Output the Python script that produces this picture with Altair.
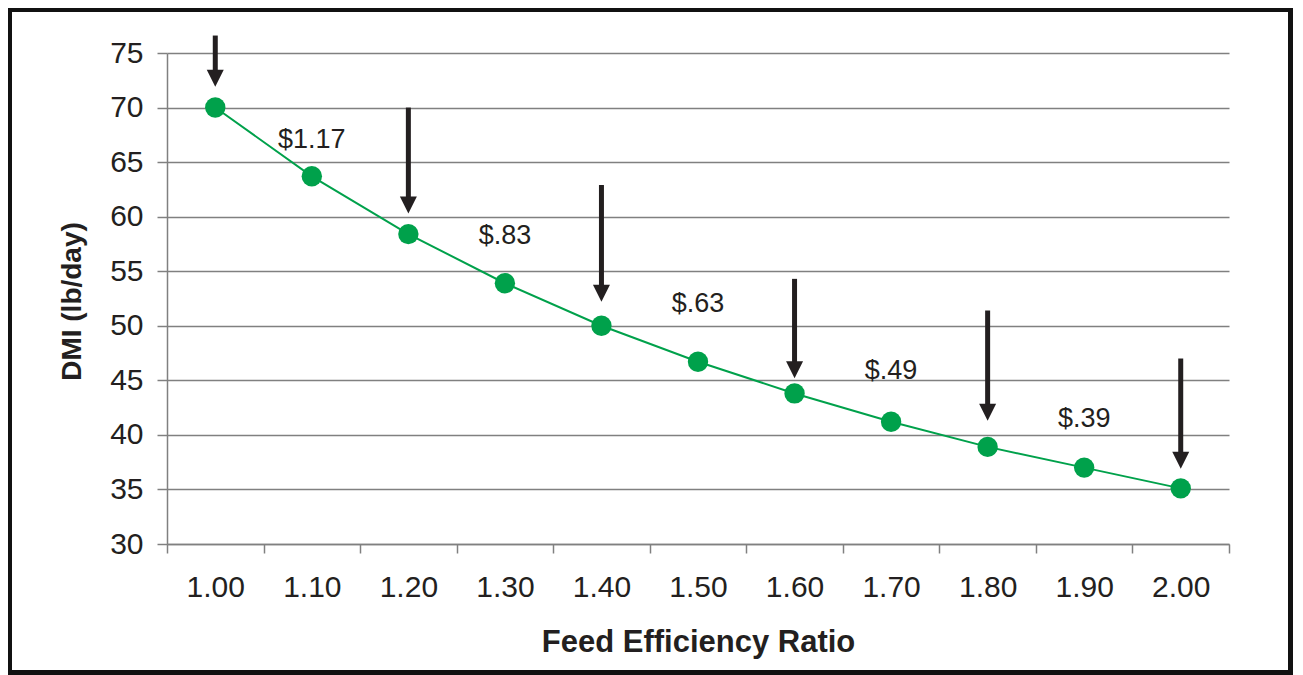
import altair as alt
import pandas as pd

# ---- data ----
ratios = ["1.00", "1.10", "1.20", "1.30", "1.40", "1.50", "1.60", "1.70", "1.80", "1.90", "2.00"]
dmi = [70.0, 63.7, 58.4, 53.9, 50.0, 46.7, 43.8, 41.2, 38.9, 37.0, 35.1]

arrow_at = ["1.00", "1.20", "1.40", "1.60", "1.80", "2.00"]
arrow_tail = [76.6, 70.0, 62.9, 54.3, 51.4, 47.0]
arrow_tip = [71.9, 60.3, 52.2, 45.2, 41.3, 36.9]

label_at = ["1.10", "1.30", "1.50", "1.70", "1.90"]
label_y = [67.0, 58.2, 52.0, 45.9, 41.5]
label_text = ["$1.17", "$.83", "$.63", "$.49", "$.39"]

y_ticks = [30, 35, 40, 45, 50, 55, 60, 65, 70, 75]

df = pd.DataFrame({"ratio": ratios, "dmi": dmi})
arrows = pd.DataFrame({"ratio": arrow_at, "tail": arrow_tail, "tip": arrow_tip})
labels = pd.DataFrame({"ratio": label_at, "y": label_y, "text": label_text})

FONT = "Liberation Sans"
GREEN = "#00A14B"
DARK = "#231F20"
GRID = "#808080"

W, H = 1062, 491
PAD_L, PAD_T, PAD_R, PAD_B = 159, 45, 64, 131

xscale = alt.Scale(type="band", paddingInner=0, paddingOuter=0, domain=ratios)
yscale = alt.Scale(domain=[30, 75], nice=False, zero=False)

x_axis = alt.Axis(
    title="Feed Efficiency Ratio",
    tickBand="extent",
    labelAngle=0,
    labelFontSize=30,
    labelFont=FONT,
    labelColor=DARK,
    labelPadding=19,
    tickSize=9,
    tickColor=GRID,
    tickWidth=1.5,
    domainColor=GRID,
    domainWidth=1.5,
    grid=False,
    titleFont=FONT,
    titleFontSize=31,
    titleFontWeight="bold",
    titleColor=DARK,
    titleBaseline="alphabetic",
    titleY=107,
    titleX=W / 2,
    titleAlign="center",
)

y_axis = alt.Axis(
    title="DMI (lb/day)",
    values=y_ticks,
    labelFontSize=30,
    labelFont=FONT,
    labelColor=DARK,
    labelPadding=14,
    tickSize=10,
    tickColor=GRID,
    tickWidth=1.5,
    domainColor=GRID,
    domainWidth=1.5,
    grid=True,
    gridColor=GRID,
    gridWidth=1.5,
    titleFont=FONT,
    titleFontSize=28,
    titleFontWeight="bold",
    titleColor=DARK,
    titleAngle=270,
    titleBaseline="alphabetic",
    titleAlign="center",
    titleX=-87,
    titleY=248,
)

base_x = alt.X("ratio:N", sort=ratios, scale=xscale, axis=x_axis, bandPosition=0.5)
plain_x = alt.X("ratio:N", sort=ratios, scale=xscale, bandPosition=0.5)

line = alt.Chart(df).mark_line(color=GREEN, strokeWidth=2).encode(
    x=base_x,
    y=alt.Y("dmi:Q", scale=yscale, axis=y_axis),
)

dots = alt.Chart(df).mark_circle(color=GREEN, size=415, opacity=1).encode(
    x=plain_x,
    y=alt.Y("dmi:Q"),
)

shafts = alt.Chart(arrows).mark_rule(color=DARK, strokeWidth=5, y2Offset=-10).encode(
    x=plain_x,
    y=alt.Y("tail:Q"),
    y2="tip:Q",
)

heads = alt.Chart(arrows).mark_point(
    shape="M-1,-2L1,-2L0,0Z", filled=True, size=289, color=DARK, opacity=1, strokeWidth=0
).encode(
    x=plain_x,
    y=alt.Y("tip:Q"),
)

texts = alt.Chart(labels).mark_text(
    font=FONT, fontSize=27, color=DARK, align="center", baseline="middle"
).encode(
    x=plain_x,
    y=alt.Y("y:Q"),
    text="text:N",
)

frame = alt.Chart(df).mark_rect(
    fill=None, fillOpacity=0, stroke="#111111", strokeWidth=5
).encode(
    x=alt.value(-157.5),
    x2=alt.value(W + PAD_R - 2.5),
    y=alt.value(-43.5),
    y2=alt.value(H + PAD_B - 2.5),
)

chart = alt.layer(line, dots, shafts, heads, texts, frame).properties(
    width=W,
    height=H,
    autosize=alt.AutoSizeParams(type="none"),
    padding={"left": PAD_L, "top": PAD_T, "right": PAD_R, "bottom": PAD_B},
    background="white",
).configure_view(stroke=None)

chart.save("out.html", embed_options={"renderer": "svg", "actions": False})
